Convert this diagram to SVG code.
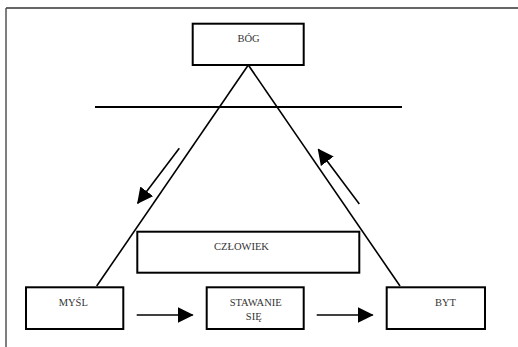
<svg xmlns="http://www.w3.org/2000/svg" width="518" height="347" viewBox="0 0 518 347">
  <style>
    .box { fill: #fff; stroke: #000; stroke-width: 2; }
    .lbl { font-family: "Liberation Serif", "Times New Roman", serif; font-size: 10.5px; fill: #333; text-anchor: middle; }
    .edge { stroke: #000; stroke-width: 1.6; fill: none; }
    .flow { stroke: #000; stroke-width: 1.6; fill: none; marker-end: url(#head); }
  </style>
  <defs>
    <marker id="head" viewBox="0 0 16 16" refX="15" refY="8" markerWidth="16" markerHeight="16" markerUnits="userSpaceOnUse" orient="auto">
      <path d="M0,0 L16,8 L0,16 Z" fill="#000"/>
    </marker>
  </defs>

  <rect width="518" height="347" fill="#fff"/>
  <!-- page frame (top and left rules) -->
  <line x1="6" y1="8" x2="518" y2="8" stroke="#333" stroke-width="1.5"/>
  <line x1="6" y1="8" x2="6" y2="347" stroke="#555" stroke-width="1.5"/>

  <g id="connectors">
    <!-- triangle sides -->
    <line class="edge" x1="248.3" y1="65" x2="96.7" y2="286"/>
    <line class="edge" x1="248.3" y1="65" x2="400" y2="286"/>
    <!-- horizontal divider -->
    <line x1="95" y1="107" x2="402" y2="107" stroke="#000" stroke-width="2"/>
    <!-- side arrows -->
    <line class="flow" x1="179.3" y1="148.3" x2="137.7" y2="203.3"/>
    <line class="flow" x1="359.3" y1="204" x2="318.3" y2="149.3"/>
    <!-- bottom arrows -->
    <line class="flow" x1="136.7" y1="315" x2="192.7" y2="315"/>
    <line class="flow" x1="316.7" y1="315" x2="372.7" y2="315"/>
  </g>

  <g id="bog">
    <rect class="box" x="192.7" y="23.7" width="111" height="41.3"/>
    <text class="lbl" x="248.5" y="42">BÓG</text>
  </g>

  <g id="czlowiek">
    <rect class="box" x="137.3" y="231.7" width="222" height="41"/>
    <text class="lbl" x="241.5" y="250">CZŁOWIEK</text>
  </g>

  <g id="mysl">
    <rect class="box" x="26" y="287.3" width="97.3" height="41.7"/>
    <text class="lbl" x="73.3" y="306">MYŚL</text>
  </g>

  <g id="stawanie">
    <rect class="box" x="206.7" y="287.3" width="97" height="41.7"/>
    <text class="lbl" x="255.7" y="306">STAWANIE</text>
    <text class="lbl" x="253.7" y="320">SIĘ</text>
  </g>

  <g id="byt">
    <rect class="box" x="386.7" y="287.3" width="98.3" height="41.7"/>
    <text class="lbl" x="445.5" y="306">BYT</text>
  </g>
</svg>
